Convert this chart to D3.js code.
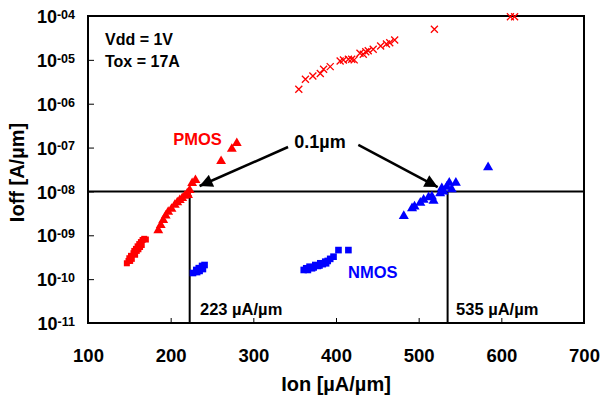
<!DOCTYPE html>
<html>
<head>
<meta charset="utf-8">
<script src="https://cdn.jsdelivr.net/npm/d3@7/dist/d3.min.js"></script>
<style>
  body { margin: 0; background: #fff; }
  text { font-family: "Liberation Sans", Arial, sans-serif; font-weight: bold; }
</style>
</head>
<body>
<svg id="plot" width="602" height="395"></svg>
<script>
// PMOS, Ion [uA/um] vs Ioff [A/um]
const pmosSquares = [
  [147, 2.3e-10], [149, 2.6e-10], [150, 3.0e-10], [152, 3.4e-10], [153, 2.9e-10],
  [155, 3.9e-10], [156, 4.4e-10], [158, 4.9e-10], [160, 5.6e-10], [162, 6.3e-10],
  [164, 7.0e-10], [166, 7.8e-10], [168, 8.3e-10], [170, 8.0e-10], [157, 3.6e-10],
  [161, 4.8e-10], [165, 6.0e-10], [151, 2.6e-10], [159, 4.4e-10], [163, 5.4e-10]
];
const pmosTriangles = [
  [185, 1.3e-9], [188, 1.7e-9], [191, 2.2e-9], [194, 2.8e-9], [197, 3.4e-9],
  [201, 4.0e-9], [205, 4.9e-9], [208, 5.6e-9], [211, 6.3e-9], [214, 7.0e-9],
  [217, 7.9e-9], [220, 9.0e-9], [223, 1.07e-8], [221, 8.2e-9], [226, 1.55e-8],
  [230, 1.8e-8], [261, 4.9e-8], [274, 9.3e-8], [280, 1.26e-7]
];
const pmosCrosses = [
  [355, 2.13e-6], [363, 3.6e-6], [372, 4.3e-6], [381, 4.9e-6], [385, 6.1e-6],
  [393, 7.0e-6], [405, 9.4e-6], [409, 9.9e-6], [415, 1.03e-5], [419, 1.03e-5],
  [422, 1.0e-5], [429, 1.41e-5], [433, 1.34e-5], [436, 1.53e-5], [439, 1.62e-5],
  [445, 1.74e-5], [454, 2.07e-5], [461, 2.3e-5], [465, 2.46e-5], [471, 2.84e-5],
  [519, 4.98e-5], [611, 9.6e-5], [616, 9.6e-5]
];
// NMOS
const nmosSquares = [
  [227, 1.38e-10], [231, 1.62e-10], [234, 1.78e-10], [238, 2.0e-10], [241, 2.1e-10],
  [232, 1.45e-10], [235, 1.54e-10], [239, 1.7e-10],
  [361, 1.62e-10], [364, 1.77e-10], [368, 1.92e-10], [371, 1.77e-10], [375, 2.1e-10],
  [378, 2.0e-10], [381, 2.3e-10], [384, 2.2e-10], [387, 2.5e-10], [390, 2.6e-10],
  [393, 2.9e-10], [397, 3.25e-10], [403, 4.6e-10], [415, 4.6e-10],
  [366, 1.62e-10], [373, 1.85e-10], [380, 2.05e-10], [388, 2.3e-10]
];
const nmosTriangles = [
  [482, 2.75e-9], [492, 4.1e-9], [495, 4.5e-9], [502, 5.5e-9], [506, 6.4e-9],
  [512, 7.3e-9], [516, 7.6e-9], [518, 6.1e-9], [526, 9.1e-9], [528, 1.18e-8],
  [530, 9.9e-9], [534, 1.28e-8], [537, 1.58e-8], [540, 1.12e-8], [545, 1.58e-8],
  [584, 3.55e-8]
];

const xTicks = [100, 200, 300, 400, 500, 600, 700];
const yExponents = [-4, -5, -6, -7, -8, -9, -10, -11];
const ioffLimit = 1e-8;
const pmosIon = 223;
const nmosIon = 535;

const margin = { top: 16, right: 18, bottom: 72, left: 88 };
const width = 602 - margin.left - margin.right;
const height = 395 - margin.top - margin.bottom;

const svg = d3.select('#plot');
const g = svg.append('g').attr('transform', `translate(${margin.left},${margin.top})`);

const x = d3.scaleLinear().domain([100, 700]).range([0, width]);
const y = d3.scaleLog().domain([1e-11, 1e-4]).range([height, 0]);

// axes with inward ticks
const xAxis = g.append('g')
  .attr('transform', `translate(0,${height})`)
  .call(d3.axisBottom(x).tickValues(xTicks).tickSizeInner(-5).tickSizeOuter(0).tickPadding(26));
xAxis.select('.domain').remove();
xAxis.selectAll('.tick line').attr('stroke', '#000');
xAxis.selectAll('.tick text').attr('font-size', 18.5).attr('fill', '#000');

const yAxis = g.append('g')
  .call(d3.axisLeft(y).tickValues(yExponents.map((e) => Math.pow(10, e))).tickSizeInner(-6).tickSizeOuter(0).tickPadding(13).tickFormat(''));
yAxis.select('.domain').remove();
yAxis.selectAll('.tick line').attr('stroke', '#000');
yAxis.selectAll('.tick text').each(function (d) {
  const e = Math.round(Math.log10(d));
  const t = d3.select(this).attr('font-size', 18).attr('fill', '#000').attr('dy', '0.37em');
  t.append('tspan').text('10');
  t.append('tspan').attr('font-size', 12.5).attr('dy', '-0.35em')
    .text('-' + String(Math.abs(e)).padStart(2, '0'));
});

// frame
g.append('rect')
  .attr('width', width).attr('height', height)
  .attr('fill', 'none').attr('stroke', '#000').attr('stroke-width', 2);

// reference lines
g.append('line')
  .attr('x1', 0).attr('x2', width).attr('y1', y(ioffLimit)).attr('y2', y(ioffLimit))
  .attr('stroke', '#000').attr('stroke-width', 2);
[pmosIon, nmosIon].forEach((v) => {
  g.append('line')
    .attr('x1', x(v)).attr('x2', x(v)).attr('y1', y(ioffLimit)).attr('y2', height)
    .attr('stroke', '#000').attr('stroke-width', 2);
});

// markers
const sq = d3.symbol().type(d3.symbolSquare);
const tri = d3.symbol().type(d3.symbolTriangle);

function drawSymbols(data, sym, size, color) {
  g.append('g').selectAll('path').data(data).join('path')
    .attr('transform', (d) => `translate(${x(d[0])},${y(d[1])})`)
    .attr('d', sym.size(size)())
    .attr('fill', color);
}
drawSymbols(pmosSquares, sq, 36, '#ff0000');
drawSymbols(pmosTriangles, tri, 42, '#ff0000');
drawSymbols(nmosSquares, sq, 44, '#0000ff');
drawSymbols(nmosTriangles, tri, 44, '#0000ff');

g.append('g').selectAll('path').data(pmosCrosses).join('path')
  .attr('transform', (d) => `translate(${x(d[0])},${y(d[1])})`)
  .attr('d', 'M-3.5,-3.5L3.5,3.5M-3.5,3.5L3.5,-3.5')
  .attr('stroke', '#ff0000').attr('stroke-width', 1.3).attr('fill', 'none');

// arrows
svg.append('defs').append('marker')
  .attr('id', 'head').attr('viewBox', '0 0 10 10').attr('refX', 10).attr('refY', 5)
  .attr('markerWidth', 16).attr('markerHeight', 13).attr('markerUnits', 'userSpaceOnUse')
  .attr('orient', 'auto')
  .append('path').attr('d', 'M0,0L10,5L0,10Z').attr('fill', '#000');

const arrows = [
  [[342, 1.03e-7], [235, 1.33e-8]],
  [[427, 1.15e-7], [523, 1.26e-8]]
];
arrows.forEach(([a, b]) => {
  g.append('line')
    .attr('x1', x(a[0])).attr('y1', y(a[1])).attr('x2', x(b[0])).attr('y2', y(b[1]))
    .attr('stroke', '#000').attr('stroke-width', 2.5).attr('marker-end', 'url(#head)');
});

// labels
const label = (vx, vy, txt, size, color, anchor) => g.append('text')
  .attr('x', x(vx)).attr('y', y(vy)).attr('font-size', size).attr('fill', color)
  .attr('text-anchor', anchor || 'start').text(txt);

g.append('text').attr('x', 17).attr('y', 29).attr('font-size', 16).text('Vdd = 1V');
g.append('text').attr('x', 17).attr('y', 51).attr('font-size', 16).text('Tox = 17A');
label(203, 1.15e-7, 'PMOS', 16.5, '#ff0000');
label(414.5, 1.07e-10, 'NMOS', 16.5, '#0000ff');
label(380.6, 9.8e-8, '0.1\u00b5m', 18, '#000', 'middle');
label(235.5, 1.5e-11, '223 \u00b5A/\u00b5m', 16.5, '#000');
label(545.2, 1.5e-11, '535 \u00b5A/\u00b5m', 16.5, '#000');

// axis titles
svg.append('text').attr('x', margin.left + width / 2).attr('y', 391)
  .attr('text-anchor', 'middle').attr('font-size', 20).text('Ion [\u00b5A/\u00b5m]');
svg.append('text').attr('transform', `translate(24,${margin.top + height / 2 + 3}) rotate(-90)`)
  .attr('text-anchor', 'middle').attr('font-size', 20).text('Ioff [A/\u00b5m]');
</script>
</body>
</html>
